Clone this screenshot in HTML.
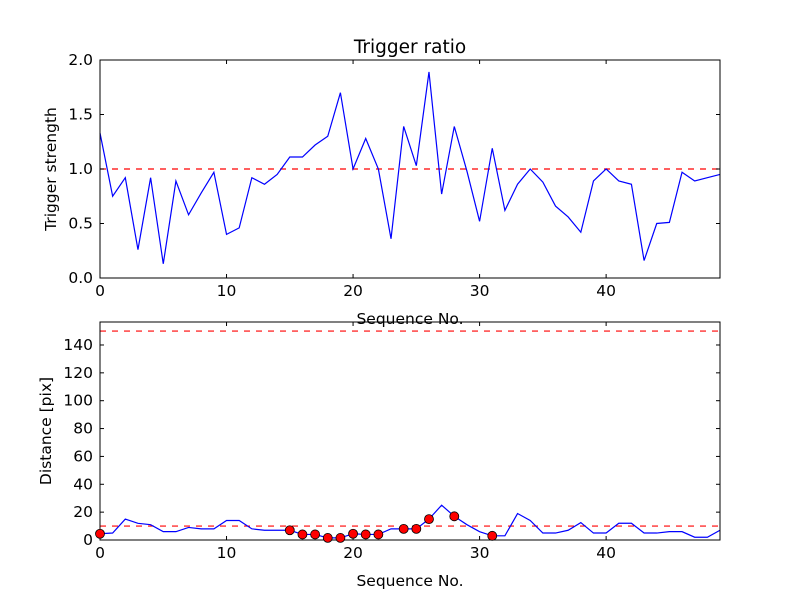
<!DOCTYPE html>
<html><head><meta charset="utf-8"><style>
body{margin:0;background:#fff;}
svg text{font-family:"DejaVu Sans","Liberation Sans",sans-serif;}
</style></head><body>
<svg id="c" width="800" height="600" xmlns="http://www.w3.org/2000/svg"></svg>
<script>
const seq = Array.from({length:50},(_,i)=>i);
const ratio = [1.33,0.75,0.92,0.26,0.92,0.13,0.89,0.58,0.78,0.97,0.40,0.46,0.92,0.86,0.95,1.11,1.11,1.22,1.30,1.70,1.00,1.28,1.00,0.36,1.39,1.03,1.89,0.77,1.39,0.98,0.52,1.19,0.62,0.86,1.00,0.88,0.66,0.56,0.42,0.89,1.00,0.89,0.86,0.16,0.50,0.51,0.97,0.89,0.92,0.95];
const dist = [4.5,5,15,12,11,6,6,9,8,8,14,14,8,7,7,7,4,4,1.5,1.5,4.5,4,4,8,8,8,15,25,17,11,6,3,3,19,14,5,5,7,12.5,5,5,12,12,5,5,6,6,2,2,7];
const flagged = [0,15,16,17,18,19,20,21,22,24,25,26,28,31];
const topTicksY = [0,0.5,1.0,1.5,2.0];
const topTickLabels = ["0.0","0.5","1.0","1.5","2.0"];
const botTicksY = [0,20,40,60,80,100,120,140];
const xTicks = [0,10,20,30,40];
const ratioThreshold = 1.0;
const distThresholds = [10,150];

const svg=document.getElementById('c');
const NS='http://www.w3.org/2000/svg';
function mk(t,a,p){const e=document.createElementNS(NS,t);for(const k in a)e.setAttribute(k,a[k]);(p||svg).appendChild(e);return e;}
const L=100,R=720;
const xs=v=>L+(v-0)/49*(R-L);

function axes(top,bot,ymax,name,ticks,labels,vals,thr,title,ylab){
  const ys=v=>bot-v/ymax*(bot-top);
  const g=mk('g',{});
  
  
  thr.forEach(t=>{const l=mk('line',{x1:L,x2:R,y1:ys(t),y2:ys(t),stroke:'#ff0000','stroke-width':1.2,'stroke-dasharray':'6,6'},g);
    
    });
  const p=mk('polyline',{points:vals.map((v,i)=>xs(seq[i])+','+ys(v)).join(' '),fill:'none',stroke:'#0000ff','stroke-width':1.2},g);
  
  
  mk('rect',{x:L,y:top,width:R-L,height:bot-top,fill:'none',stroke:'#000','stroke-width':1},g);
  ticks.forEach((t,i)=>{const y=ys(t);
    mk('line',{x1:L,x2:L+4,y1:y,y2:y,stroke:'#000'},g);mk('line',{x1:R-4,x2:R,y1:y,y2:y,stroke:'#000'},g);
    const tx=mk('text',{x:L-7,y:y+5,'text-anchor':'end','font-size':15.5},g);tx.textContent=labels[i];
    
    });
  xTicks.forEach(t=>{const x=xs(t);
    mk('line',{x1:x,x2:x,y1:bot,y2:bot-4,stroke:'#000'},g);mk('line',{x1:x,x2:x,y1:top,y2:top+4,stroke:'#000'},g);
    const tx=mk('text',{x:x,y:bot+18,'text-anchor':'middle','font-size':15.5},g);tx.textContent=t;
    
    });
  const xl=mk('text',{x:(L+R)/2,y:bot+46,'text-anchor':'middle','font-size':15.5},g);xl.textContent='Sequence No.';
  
  
  const yl=mk('text',{x:0,y:0,'text-anchor':'middle','font-size':15.5,transform:`translate(${name==='top-axes'?56:51},${(top+bot)/2}) rotate(-90)`},g);yl.textContent=ylab;
  
  
  if(title){const tt=mk('text',{x:(L+R)/2,y:top-7,'text-anchor':'middle','font-size':18.5},g);tt.textContent=title;
    
    }
  return ys;
}
axes(60,278,2.0,'top-axes',topTicksY,topTickLabels,ratio,[ratioThreshold],'Trigger ratio','Trigger strength');
const ys2=axes(322,540,156.5,'bottom-axes',botTicksY,botTicksY.map(String),dist,distThresholds,null,'Distance [pix]');
flagged.forEach(i=>{const c=mk('circle',{cx:xs(seq[i]),cy:ys2(dist[i]),r:4.5,fill:'#ff0000',stroke:'#000','stroke-width':0.8});
  
  });
</script>
</body></html>
